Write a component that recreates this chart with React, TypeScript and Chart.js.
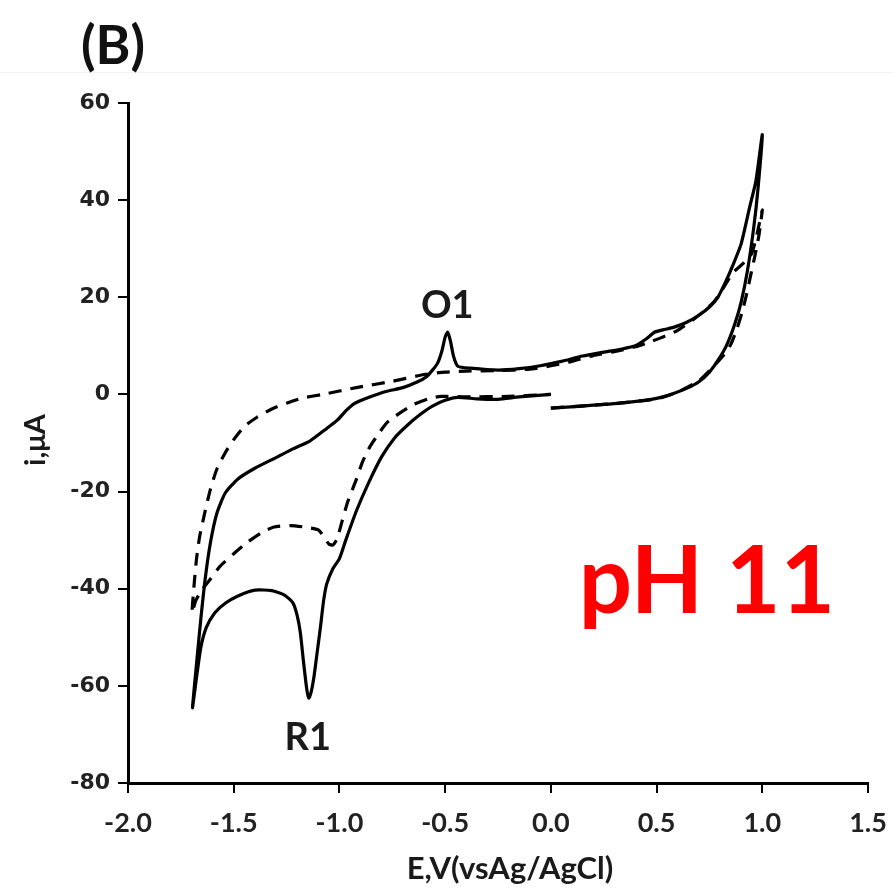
import { useEffect, useRef } from 'react';
import { Chart, registerables } from 'chart.js';

Chart.register(...registerables);

// Axis ticks
const xTickValues = [-2.0, -1.5, -1.0, -0.5, 0.0, 0.5, 1.0, 1.5];
const xTickLabels = ['-2.0', '-1.5', '-1.0', '-0.5', '0.0', '0.5', '1.0', '1.5'];
const yTickValues = [-80, -60, -40, -20, 0, 20, 40, 60];
const yTickLabels = ['-80', '-60', '-40', '-20', '0', '20', '40', '60'];
const xTitle = 'E,V(vsAg/AgCl)';
const yTitle = 'i,μA';

// Solid CV (scan order: 0 -> 1.0 -> -1.7 -> 0)
const solidE = [
  0.00, 0.15, 0.35, 0.50, 0.58, 0.65, 0.70, 0.75, 0.79, 0.83, 0.87, 0.90, 0.93, 0.96, 0.98, 1.00,
  0.97, 0.94, 0.90, 0.86, 0.83, 0.79, 0.75, 0.70, 0.64, 0.58, 0.53, 0.49, 0.45, 0.40, 0.33, 0.25, 0.15, 0.05,
  -0.05, -0.15, -0.25, -0.38, -0.44, -0.46, -0.475, -0.488, -0.50, -0.515, -0.535, -0.56, -0.59, -0.63, -0.70,
  -0.78, -0.86, -0.93, -0.97, -1.01, -1.06, -1.14, -1.22, -1.30, -1.40, -1.48, -1.54, -1.58, -1.61, -1.635,
  -1.655, -1.675, -1.695,
  -1.675, -1.655, -1.63, -1.59, -1.54, -1.48, -1.40, -1.32, -1.26, -1.22, -1.20, -1.185, -1.17, -1.155, -1.145,
  -1.135, -1.12, -1.105, -1.09, -1.075, -1.06, -1.03, -1.00, -0.97, -0.92, -0.86, -0.80, -0.74, -0.68, -0.62,
  -0.56, -0.50, -0.44, -0.35, -0.25, -0.15, 0.00,
];
const solidI = [
  -2.8, -2.4, -1.7, -0.8, 0.2, 1.4, 2.6, 4.6, 7.0, 10.0, 14.5, 19.0, 25.5, 34.5, 42.5, 53.5,
  44, 38.5, 31, 26.5, 23.5, 20, 18, 16.3, 14.8, 13.8, 13.3, 12.8, 11.4, 10.0, 9.3, 8.7, 7.9, 6.8,
  5.9, 5.3, 5.0, 5.4, 5.8, 7.8, 11.0, 12.8, 11.8, 9.0, 6.5, 5.0, 3.6, 2.6, 1.4,
  0.6, -0.6, -1.9, -3.4, -5.3, -7.0, -9.6, -11.2, -13.0, -15.2, -17.4, -20.3, -24.5, -30.5, -38,
  -46, -55, -64.5,
  -58, -52, -48, -45, -43, -41.5, -40.3, -40.4, -41.3, -42.9, -45.5, -49, -55, -60.5, -62.5,
  -61.5, -58, -53, -48, -42.5, -39, -35.8, -33.8, -30, -24, -18, -12.8, -9, -6.4, -4.2,
  -2.4, -1.2, -0.6, -0.9, -1.0, -0.5, 0.0,
];

// Dashed CV
const dashedE = [
  0.00, 0.30, 0.50, 0.60, 0.70, 0.77, 0.82, 0.85, 0.88, 0.905, 0.925, 0.945, 0.965, 0.985, 1.00,
  0.975, 0.95, 0.91, 0.86, 0.81, 0.77, 0.72, 0.67, 0.60, 0.54, 0.48, 0.40, 0.30, 0.20, 0.10, 0.00,
  -0.10, -0.25, -0.40, -0.50, -0.60, -0.75, -0.92, -1.08, -1.18, -1.25, -1.32, -1.39, -1.45, -1.50,
  -1.54, -1.58, -1.61, -1.635, -1.66, -1.675, -1.685, -1.697,
  -1.68, -1.65, -1.61, -1.565, -1.50, -1.437, -1.37, -1.31, -1.23, -1.15, -1.10, -1.07, -1.05, -1.03,
  -1.01, -0.99, -0.96, -0.92, -0.89, -0.855, -0.81, -0.775, -0.72, -0.65, -0.58, -0.52, -0.40, -0.20, 0.00,
];
const dashedI = [
  -2.8, -1.9, -0.9, 0.5, 2.8, 5.8, 8.2, 10.2, 13.5, 17.0, 20.5, 24.5, 28.5, 33.0, 38.0,
  33, 29, 27, 25, 21.5, 19, 17, 15.3, 13.2, 12, 11, 9.8, 8.8, 8.0, 6.8, 5.9,
  5.2, 4.9, 4.8, 4.6, 4.1, 2.7, 1.4, 0.0, -0.8, -1.8, -3.0, -4.7, -6.6, -9.3,
  -12, -15.4, -19.5, -24, -29, -33.5, -38, -45,
  -42.5, -40.2, -38, -35.4, -32.8, -30.5, -28.5, -27.3, -27.0, -27.4, -27.9, -29.5, -30.8, -31.0,
  -29.6, -26.5, -22, -17.5, -13.8, -10.7, -7.8, -5.8, -4, -2.1, -0.9, -0.4, -0.5, -0.4, 0.0,
];

const toPoints = (xs: number[], ys: number[]) => xs.map((x, i) => ({ x, y: ys[i] }));

const annotationPlugin = {
  id: 'annotations',
  afterDraw(chart: any) {
    const { ctx, scales, chartArea } = chart;
    const xs = scales.x;
    const ys = scales.y;
    ctx.save();
    ctx.fillStyle = '#1a1a1a';
    ctx.textAlign = 'center';
    ctx.textBaseline = 'middle';
    ctx.font = 'bold 38px Lato';
    ctx.fillText('O1', xs.getPixelForValue(-0.49), ys.getPixelForValue(18.2));
    ctx.fillText('R1', xs.getPixelForValue(-1.15), ys.getPixelForValue(-70.6));
    // axis titles
    ctx.font = 'bold 31px Lato';
    ctx.fillText(xTitle, 510, 869);
    ctx.save();
    ctx.translate(36, (chartArea.top + chartArea.bottom) / 2 - 3);
    ctx.rotate(-Math.PI / 2);
    ctx.font = 'bold 29px Lato';
    ctx.fillText(yTitle, 0, 0);
    ctx.restore();
    ctx.fillStyle = '#ff0000';
    ctx.textAlign = 'left';
    ctx.textBaseline = 'alphabetic';
    ctx.font = 'bold 94px Lato';
    ctx.fillText('pH 11', xs.getPixelForValue(0.132), ys.getPixelForValue(-44.9));
    ctx.fillStyle = '#111';
    ctx.font = 'bold 53px Lato';
    ctx.fillText('(B)', 81, 64);
    ctx.restore();
  },
};

export default function App() {
  const ref = useRef<HTMLCanvasElement>(null);
  useEffect(() => {
    document.body.style.margin = '0';
    const canvas = ref.current!;
    const chart = new Chart(canvas, {
      type: 'scatter',
      data: {
        datasets: [
          {
            label: 'solid',
            data: toPoints(solidE, solidI),
            showLine: true,
            borderColor: '#000',
            borderWidth: 3.2,
            pointRadius: 0,
            tension: 0.2,
            fill: false,
          },
          {
            label: 'dashed',
            data: toPoints(dashedE, dashedI),
            showLine: true,
            borderColor: '#000',
            borderWidth: 3.2,
            borderDash: [13, 9],
            pointRadius: 0,
            tension: 0.2,
            fill: false,
          },
        ],
      },
      options: {
        animation: false,
        responsive: false,
        devicePixelRatio: 1,
        layout: { padding: { left: 0, top: 103, right: 25, bottom: 0 } },
        plugins: { legend: { display: false }, tooltip: { enabled: false } },
        scales: {
          x: {
            type: 'linear',
            min: -2,
            max: 1.5,
            afterBuildTicks: (scale: any) => {
              scale.ticks = xTickValues.map((v) => ({ value: v }));
            },
            afterFit: (scale: any) => {
              scale.height = 107;
              scale.paddingLeft = 0;
              scale.paddingRight = 0;
            },
            ticks: {
              callback: (_v: any, i: number) => xTickLabels[i],
              color: '#222',
              font: { family: 'Lato', weight: 'bold', size: 27 },
              padding: 14,
              maxRotation: 0,
            },
            grid: { drawOnChartArea: false, drawTicks: true, tickLength: 10, color: '#000', lineWidth: 2 },
            border: { display: true, color: '#000', width: 3 },
            title: { display: false, text: xTitle },
          },
          y: {
            type: 'linear',
            min: -80,
            max: 60,
            afterBuildTicks: (scale: any) => {
              scale.ticks = yTickValues.map((v) => ({ value: v }));
            },
            afterFit: (scale: any) => {
              scale.width = 128;
            },
            ticks: {
              callback: (_v: any, i: number) => yTickLabels[i],
              color: '#222',
              font: { family: 'DejaVu Sans', weight: 'bold', size: 22 },
              padding: 8,
            },
            grid: { drawOnChartArea: false, drawTicks: true, tickLength: 10, color: '#000', lineWidth: 2 },
            border: { display: true, color: '#000', width: 3 },
            title: { display: false, text: yTitle },
          },
        },
      },
      plugins: [annotationPlugin],
    } as any);
    return () => chart.destroy();
  }, []);
  return (
    <div style={{ position: 'relative', width: 893, height: 890, background: '#fff' }}>
      <div style={{ position: 'absolute', left: 0, top: 72, width: 893, height: 1, background: '#f2f2f2' }} />
      <canvas ref={ref} width={893} height={890} style={{ position: 'absolute', left: 0, top: 0 }} />
    </div>
  );
}
